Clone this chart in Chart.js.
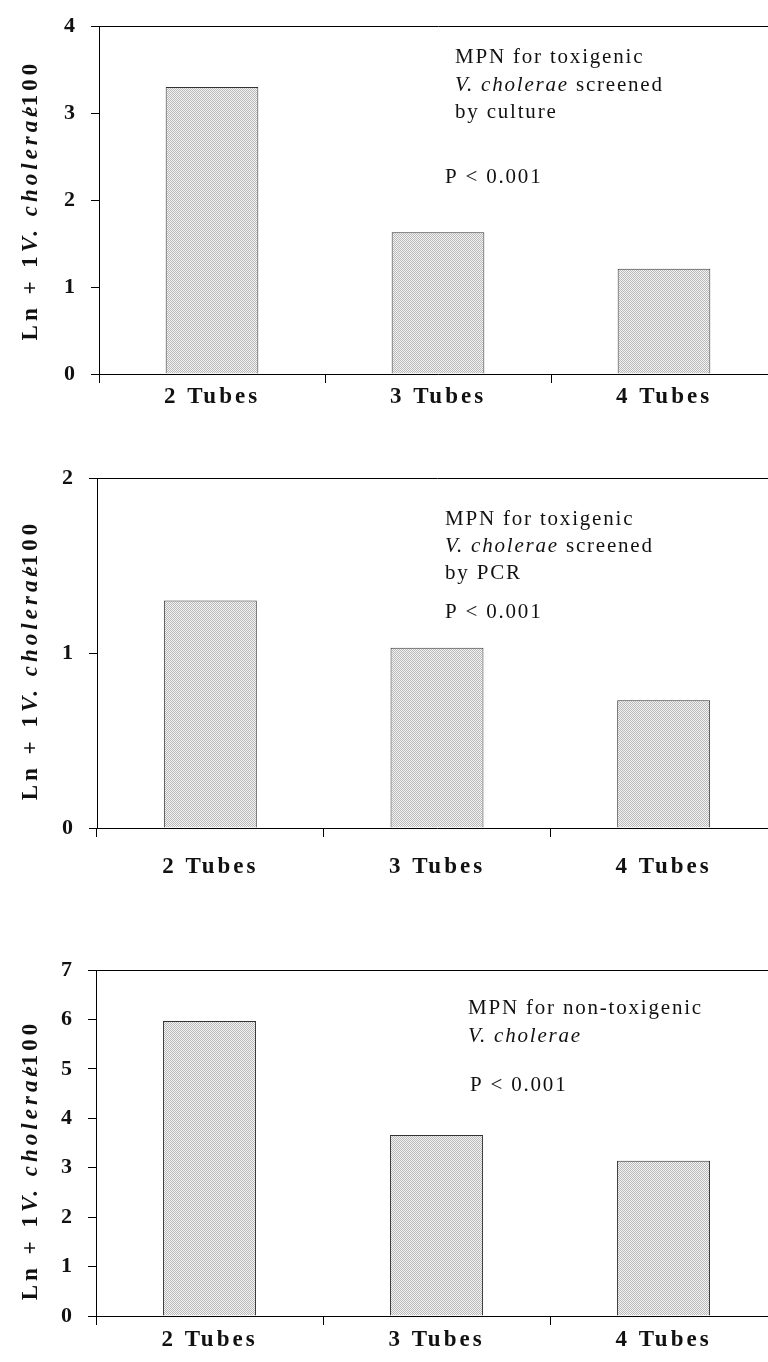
<!DOCTYPE html>
<html>
<head>
<meta charset="utf-8">
<script src="https://cdn.jsdelivr.net/npm/chart.js@4"></script>
<style>
  body { margin: 0; background: #fff; }
  #page { position: relative; width: 768px; height: 1362px; overflow: hidden; }
  #page canvas { position: absolute; left: 0; }
</style>
</head>
<body>
<div id="page">
  <canvas id="culture"></canvas>
  <canvas id="pcr"></canvas>
  <canvas id="nontox"></canvas>
</div>
<script>
// category labels shared by all three panels
const tubeLabels = ["2 Tubes", "3 Tubes", "4 Tubes"];

// Ln(MPN + 1) per 100 ml, one list per panel
const cultureValues = [3.3, 1.63, 1.21];
const pcrValues = [1.3, 1.03, 0.73];
const nonToxValues = [5.97, 3.66, 3.14];

// y axis upper limits (ticks every 1)
const cultureMax = 4;
const pcrMax = 2;
const nonToxMax = 7;

// panel notes: each line is a list of [text, italic]
const cultureNote = [
  [["MPN for toxigenic", false]],
  [["V. cholerae", true], [" screened", false]],
  [["by culture", false]]
];
const pcrNote = [
  [["MPN for toxigenic", false]],
  [["V. cholerae", true], [" screened", false]],
  [["by PCR", false]]
];
const nonToxNote = [
  [["MPN for non-toxigenic", false]],
  [["V. cholerae", true]]
];
const pText = "P < 0.001";

const SERIF = "'Liberation Serif', 'Times New Roman', serif";

// stippled grey fill for the bars
function stipple() {
  const c = document.createElement("canvas");
  c.width = 2; c.height = 2;
  const g = c.getContext("2d");
  g.fillStyle = "#f2f2f2";
  g.fillRect(0, 0, 2, 2);
  g.fillStyle = "#bababa";
  g.fillRect(0, 0, 1, 1);
  g.fillRect(1, 1, 1, 1);
  return g.createPattern(c, "repeat");
}

// draws a line made of plain / italic runs
function drawRuns(ctx, runs, x, y, size, bold, spacing) {
  ctx.letterSpacing = spacing + "px";
  let cx = x;
  runs.forEach(([txt, it]) => {
    ctx.font = (it ? "italic " : "") + (bold ? "bold " : "") + size + "px " + SERIF;
    ctx.fillText(txt, cx, y);
    cx += ctx.measureText(txt).width;
  });
}

const panelText = {
  id: "panelText",
  beforeDraw(chart) {
    // wide tracking on the axis labels
    chart.ctx.letterSpacing = "3px";
  },
  afterDraw(chart, args, opts) {
    const ctx = chart.ctx;
    const area = chart.chartArea;
    ctx.save();
    ctx.fillStyle = "#111";
    ctx.textBaseline = "middle";
    ctx.textAlign = "left";

    // note block
    opts.note.forEach((runs, i) => {
      drawRuns(ctx, runs, opts.noteX, opts.noteY[i], 21, false, 1.8);
    });
    drawRuns(ctx, [[pText, false]], opts.pX, opts.pY, 21, false, 1.8);

    // rotated axis title: Ln + 1 V. cholerae/100
    ctx.translate(31, (area.top + area.bottom) / 2 + opts.titleShift);
    ctx.rotate(-Math.PI / 2);
    ctx.letterSpacing = "4px";
    const size = 23;
    const parts = [["Ln + 1", false], ["V. cholerae", true], ["/100", false]];
    let w = 0;
    parts.forEach(([t, it]) => {
      ctx.font = (it ? "italic " : "") + "bold " + size + "px " + SERIF;
      w += ctx.measureText(t).width;
    });
    ctx.font = "bold " + size + "px " + SERIF;
    const eW = ctx.measureText("e").width;
    w -= eW;
    let x = -w / 2;
    parts.forEach(([t, it], k) => {
      ctx.font = (it ? "italic " : "") + "bold " + size + "px " + SERIF;
      if (k === 2) x -= eW; // the slash sits over the final "e"
      ctx.fillText(t, x, 0);
      x += ctx.measureText(t).width;
    });
    ctx.restore();
  }
};

function makePanel(p) {
  const canvas = document.getElementById(p.id);
  canvas.width = 800;
  canvas.height = p.height;
  canvas.style.top = p.top + "px";

  return new Chart(canvas, {
    type: "bar",
    data: {
      labels: tubeLabels,
      datasets: [{
        data: p.values,
        backgroundColor: stipple(),
        borderColor: "#333",
        borderWidth: 1,
        barPercentage: 0.41,
        categoryPercentage: 1
      }]
    },
    options: {
      responsive: false,
      devicePixelRatio: 1,
      animation: false,
      layout: { padding: { top: p.areaTop, right: 23, left: 0, bottom: 0 } },
      plugins: {
        legend: { display: false },
        tooltip: { enabled: false },
        panelText: {
          note: p.note, noteX: p.noteX, noteY: p.noteY,
          pX: p.pX, pY: p.pY, titleShift: p.titleShift
        }
      },
      scales: {
        x: {
          afterFit(scale) { scale.height = p.height - p.areaBottom; },
          grid: {
            offset: true,
            drawOnChartArea: false,
            tickLength: 9,
            tickColor: "#000",
            color: "#000"
          },
          border: { display: true, color: "#000", width: 1 },
          ticks: {
            padding: p.labelPad,
            color: "#111",
            font: { family: SERIF, size: 23, weight: "bold" }
          }
        },
        y: {
          min: 0,
          max: p.max,
          afterFit(scale) { scale.width = p.axisLeft; },
          grid: {
            // only the top gridline is drawn, as a frame line
            color: (c) => (c.tick && c.tick.value === p.max ? "#000" : "rgba(0,0,0,0)"),
            tickColor: "#000",
            tickLength: 8
          },
          border: { display: true, color: "#000", width: 1 },
          ticks: {
            stepSize: 1,
            padding: 13,
            color: "#111",
            font: { family: SERIF, size: 22, weight: "bold" }
          }
        }
      }
    },
    plugins: [panelText]
  });
}

makePanel({
  id: "culture", top: 0, height: 430, values: cultureValues, max: cultureMax,
  axisLeft: 99, areaTop: 24, areaBottom: 374, labelPad: 0,
  note: cultureNote, noteX: 455, noteY: [57, 85, 112], pX: 445, pY: 177, titleShift: 0
});

makePanel({
  id: "pcr", top: 430, height: 470, values: pcrValues, max: pcrMax,
  axisLeft: 97, areaTop: 48, areaBottom: 398, labelPad: 16,
  note: pcrNote, noteX: 445, noteY: [89, 116, 143], pX: 445, pY: 182, titleShift: 7
});

makePanel({
  id: "nontox", top: 900, height: 462, values: nonToxValues, max: nonToxMax,
  axisLeft: 96, areaTop: 70, areaBottom: 416, labelPad: 1,
  note: nonToxNote, noteX: 468, noteY: [108, 136], pX: 470, pY: 185, titleShift: 17
});
</script>
</body>
</html>
